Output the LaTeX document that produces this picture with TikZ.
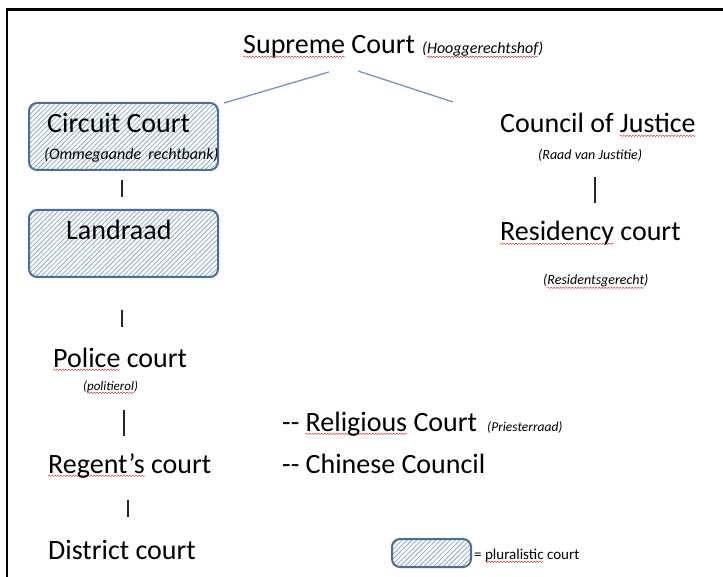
\documentclass[tikz,border=0pt]{standalone}
\usepackage{fontspec}
\setmainfont{Carlito}
\usepackage{xcolor}
\usetikzlibrary{patterns.meta,decorations.pathmorphing}

\definecolor{courtedge}{RGB}{74,110,156}
\definecolor{hatchblue}{RGB}{140,166,204}
\definecolor{linkblue}{RGB}{112,148,200}
\definecolor{squiggle}{RGB}{230,60,60}

\newsavebox\spellbox
\newcommand\spell[1]{\sbox\spellbox{#1}\tikz[overlay,baseline=0pt,reset cm]
	\draw [squiggle, line width=0.5pt, decorate, decoration={snake,amplitude=0.7pt,segment length=3pt}]
		(0pt,-2.8pt) -- (\wd\spellbox,-2.8pt);\usebox\spellbox}
\newcommand\bigtxt{\fontsize{28}{30}\selectfont}
\newcommand\smalltxt[1]{\fontsize{#1}{#1}\selectfont\itshape}

\begin{document}
\begin{tikzpicture}[x=1pt,y=1pt,yscale=-1,xscale=1,
    court/.style={draw=courtedge, line width=2pt, rounded corners=8pt,
        pattern={Lines[angle=45,distance=3.4pt,line width=0.8pt]}, pattern color=hatchblue},
    courtname/.style={anchor=base west, inner sep=0pt, font=\bigtxt},
    note/.style={anchor=base west, inner sep=0pt},
    link/.style={draw=linkblue, line width=1.3pt},
    bar/.style={draw=black!85, line width=2pt}]
		\useasboundingbox (0,0) rectangle (723,577);
		%frame, cut off on the right and at the bottom
		\draw [line width=2.5pt] (7,590) -- (7,9.5) -- (740,9.5);
		
		%pluralistic courts
		\node [court, minimum width=189pt, minimum height=67pt] (circuitbox) at (123.5,136.5) {};
		\node [court, minimum width=189pt, minimum height=67pt] (landraadbox) at (123.5,243.5) {};
		\node [court, minimum width=79pt, minimum height=28pt] (legendbox) at (431.5,553) {};
		
		% Text Node
		\node [courtname] (supreme) at (243,54) {\spell{Supreme} Court};
		\node [note, font=\smalltxt{16}] (supremenl) at (422,54) {(\spell{Hooggerechtshof})};
		\node [courtname] (circuit) at (47,133) {Circuit Court};
		\node [note, font=\smalltxt{16}] (circuitnl) at (44,160) {(Ommegaande\ \ rechtbank)};
		\node [courtname] (landraad) at (66,240) {Landraad};
		\node [courtname] (council) at (500,133) {Council of \spell{Justice}};
		\node [note, font=\smalltxt{14}] (councilnl) at (538,160) {(Raad van Justitie)};
		\node [courtname] (residency) at (500,241) {\spell{Residency} court};
		\node [note, font=\smalltxt{14}] (residencynl) at (543,285) {(\spell{Residentsgerecht})};
		\node [courtname] (police) at (53,367) {\spell{Police} court};
		\node [note, font=\smalltxt{13}] (policenl) at (83,390) {(\spell{politierol})};
		\node [courtname] (regent) at (48,473) {\spell{Regent’s} court};
		\node [courtname] (district) at (48,559) {District court};
		\node [courtname] (religious) at (282,431) {-{}- \spell{Religious} Court};
		\node [note, font=\smalltxt{13.5}] (religiousnl) at (487,431) {(Priesterraad)};
		\node [courtname] (chinese) at (282,473) {-{}- Chinese Council};
		\node [note, font=\fontsize{15}{15}\selectfont] (legend) at (474,559) {= \spell{pluralistic} court};
		
		%links below the supreme court
		\coordinate (sl) at (329,72);
		\coordinate (sr) at (358,71);
		\coordinate (cl) at (224,103);
		\coordinate (cr) at (453,102);
		\draw [link] (sl) -- (cl);
		\draw [link] (sr) -- (cr);
		
		%bars between the lower courts
		\coordinate (b1) at (122,180);  \coordinate (b1e) at (122,197);
		\coordinate (b2) at (122,310);  \coordinate (b2e) at (122,327);
		\coordinate (b3) at (124,410);  \coordinate (b3e) at (124,436);
		\coordinate (b4) at (128,500);  \coordinate (b4e) at (128,517);
		\coordinate (b5) at (595,177);  \coordinate (b5e) at (595,203);
		\foreach \a/\b in {b1/b1e, b2/b2e, b3/b3e, b4/b4e, b5/b5e}
			\draw [bar] (\a) -- (\b);
	\end{tikzpicture}
\end{document}
